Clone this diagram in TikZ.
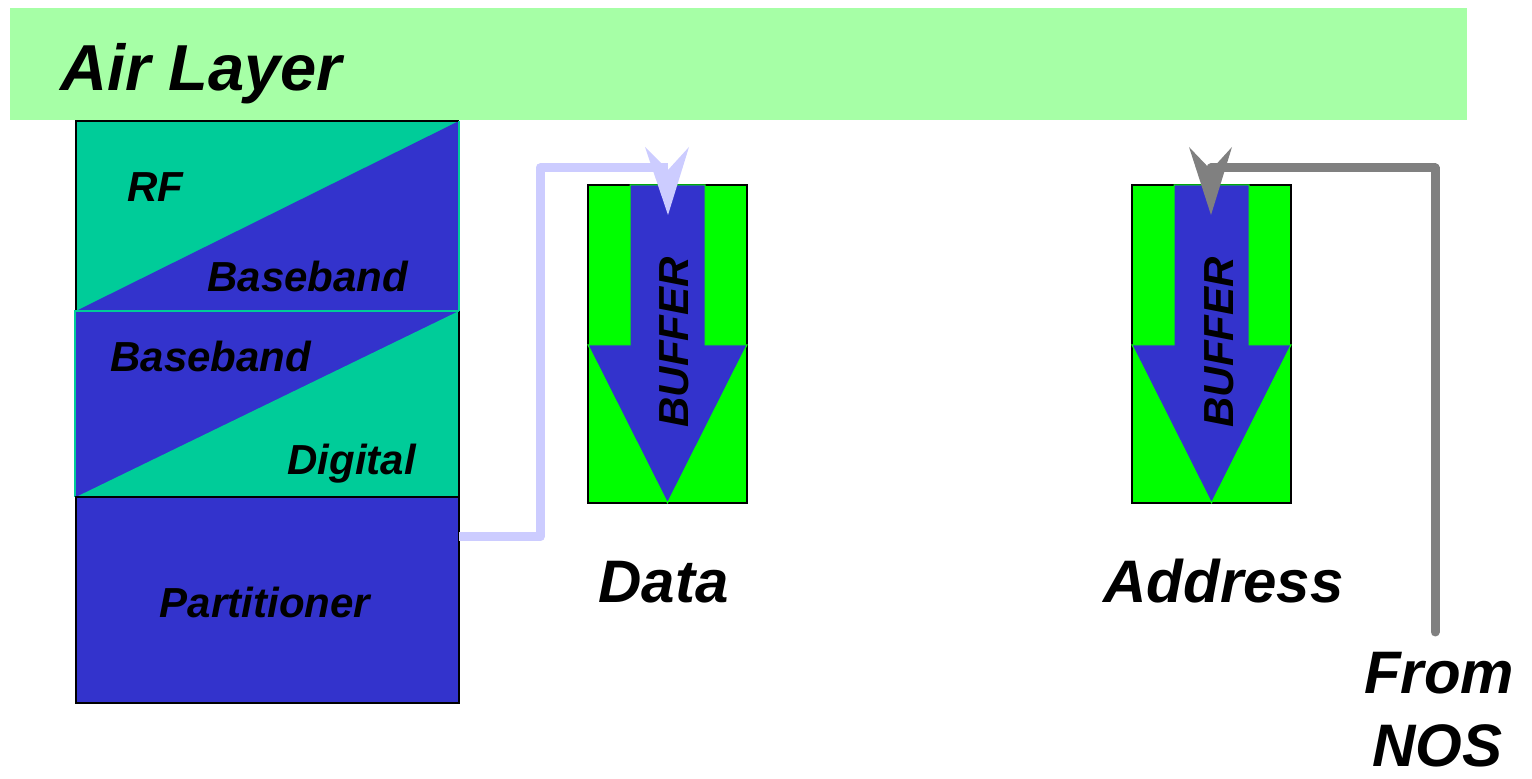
\documentclass[tikz,border=0pt]{standalone}
\usepackage{fontspec}
\setmainfont{Liberation Sans}
\definecolor{airgreen}{RGB}{166,255,166}
\definecolor{teal}{RGB}{0,204,153}
\definecolor{deepblue}{RGB}{51,51,204}
\definecolor{brightgreen}{RGB}{0,255,0}
\definecolor{lavender}{RGB}{204,204,255}
\definecolor{midgray}{RGB}{128,128,128}
\begin{document}
\begin{tikzpicture}[x=0.5pt,y=-0.5pt,
  small/.style={font=\bfseries\itshape\fontsize{21}{24}\selectfont, inner sep=0pt},
  big/.style={font=\bfseries\itshape\fontsize{30}{36}\selectfont, inner sep=0pt},
  bufrect/.style={fill=brightgreen, draw=black, line width=1pt},
  bufarrow/.style={fill=deepblue, draw=brightgreen, line width=0.5pt, line join=miter},
  wire/.style={line width=4.5pt, line join=round}]
\useasboundingbox (0,0) rectangle (1532,779);

% air layer band
\fill[airgreen] (10,8) rectangle (1467,120);
\node[anchor=base west, font=\bfseries\itshape\fontsize{32.5}{36}\selectfont, inner sep=0pt] (air) at (60,91) {Air Layer};

% stacked block: RF/Baseband
\fill[teal] (76,121) rectangle (459,311);
\fill[deepblue] (76,311) -- (459,121) -- (459,311) -- cycle;
\draw[black, line width=1pt] (76,311) -- (76,121) -- (459,121);
\draw[teal, line width=1pt] (459,121) -- (459,311) -- (76,311);
% Baseband/Digital
\fill[deepblue] (76,311) rectangle (459,497);
\fill[teal] (76,497) -- (459,311) -- (459,497) -- cycle;
\draw[black, line width=1pt] (459,311) -- (459,497);
\draw[teal, line width=1pt] (75,497) -- (75,311) -- (459,311);
% Partitioner
\fill[deepblue] (76,497) rectangle (459,703);
\draw[black, line width=1pt] (76,497) rectangle (459,703);

\node[small, anchor=base west] (rf) at (127,202) {RF};
\node[small, anchor=base west] (bb1) at (207,292) {Baseband};
\node[small, anchor=base west] (bb2) at (110,372) {Baseband};
\node[small, anchor=base west] (dig) at (287,475) {Digital};
\node[small, anchor=base] (part) at (265,618) {Partitioner};

% buffers
\begin{scope}[shift={(588,185)}]
  \draw[bufrect] (0,0) rectangle (159,318);
  \draw[bufarrow] (42,0) -- (117,0) -- (117,160) -- (159,160) -- (79.5,318) -- (0,160) -- (42,160) -- cycle;
  \node[small, rotate=90, anchor=base west] (buf1) at (100,243) {BUFFER};
  \coordinate (dtip) at (80,30);
  \coordinate (dnotch) at (80,-15);
  \coordinate (dbl) at (57,-38);
  \coordinate (dbr) at (101,-38);
\end{scope}
\begin{scope}[shift={(1132,185)}]
  \draw[bufrect] (0,0) rectangle (159,318);
  \draw[bufarrow] (42,0) -- (117,0) -- (117,160) -- (159,160) -- (79.5,318) -- (0,160) -- (42,160) -- cycle;
  \node[small, rotate=90, anchor=base west] (buf2) at (101,243) {BUFFER};
  \coordinate (atip) at (79,30);
  \coordinate (anotch) at (79,-15);
  \coordinate (abl) at (57,-38);
  \coordinate (abr) at (100,-38);
\end{scope}

\node[big, anchor=base west] (data) at (598,603) {Data};
\node[big, anchor=base west] (addr) at (1103,603) {Address};
\node[big, anchor=base] (from) at (1439,694) {From};
\node[big, anchor=base] (nos) at (1437,767) {NOS};

% data connector
\coordinate (pout) at (459,537);
\coordinate (dbend) at (540,168);
\draw[wire, lavender] (pout) -| (dbend) -- (dnotch |- dbend);
\fill[lavender] (dtip) -- (dbl) -- (dnotch) -- (dbr) -- cycle;

% address connector
\coordinate (nosin) at (1435,632);
\draw[wire, midgray, line cap=round] (nosin) |- (anotch |- dbend);
\fill[midgray] (atip) -- (abl) -- (anotch) -- (abr) -- cycle;
\end{tikzpicture}
\end{document}
